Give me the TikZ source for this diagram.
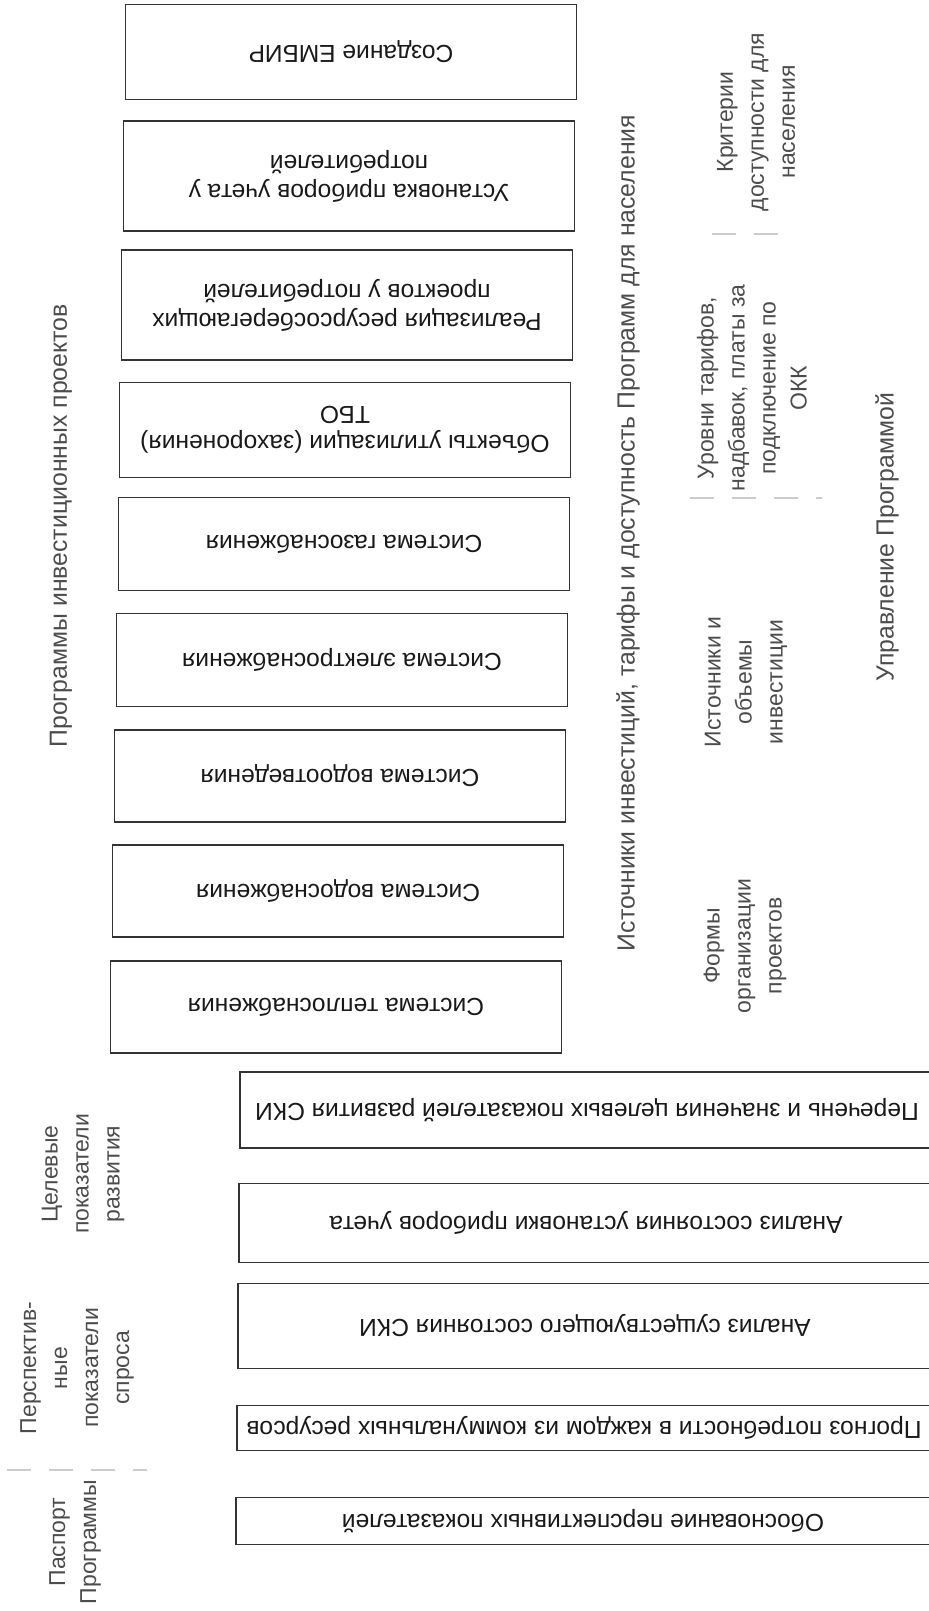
\documentclass[tikz,border=0pt]{standalone}
\usepackage{fontspec}
\setmainfont{Liberation Sans}
\usetikzlibrary{positioning}
\tikzset{
every picture/.style={x=0.5pt, y=-0.5pt},
blok/.style={draw=black!80, line width=0.9pt, rotate=180, align=center,
  inner sep=2pt, text=black!90, font=\fontsize{12.3}{14.5}\selectfont},
kol/.style={blok, minimum width=225.5pt},
niz/.style={blok, minimum width=347pt},
lbl/.style={rotate=90, align=center, text=black!70, inner sep=0pt,
  font=\fontsize{11.5}{15.5}\selectfont},
biglbl/.style={lbl, font=\fontsize{12.4}{15}\selectfont},
sep/.style={draw=black!20, line width=1pt, dash pattern=on 12pt off 9pt},
}

\begin{document}
\begin{tikzpicture}
\useasboundingbox (0,0) rectangle (928,1611);
% programs of investment projects
    \node[kol, minimum height=47.5pt] (emvir) at (351,52) {Создание ЕМБИР};
    \node[kol, minimum height=55pt] (pribory) at (349,176) {Установка приборов учета у\\потребителей};
    \node[kol, minimum height=55pt] (resurs) at (347,305) {Реализация ресурсосберегающих\\проектов у потребителей};
    \node[kol, minimum height=47.5pt] (tbo) at (345,430) {Объекты утилизации (захоронения)\\ТБО};
    \node[kol, minimum height=46.5pt] (gaz) at (344,544) {Система газоснабжения};
    \node[kol, minimum height=46.5pt] (elektro) at (342,660) {Система электроснабжения};
    \node[kol, minimum height=46pt] (vodootv) at (340,776) {Система водоотведения};
    \node[kol, minimum height=46pt] (vodosn) at (338,891) {Система водоснабжения};
    \node[kol, minimum height=46pt] (teplo) at (336,1007) {Система теплоснабжения};
% lower boxes
    \node[niz, minimum height=38pt] (perechen) at (587,1110) {Перечень и значения целевых показателей развития СКИ};
    \node[niz, minimum height=39.5pt] (analizpu) at (586,1223) {Анализ состояния установки приборов учета};
    \node[niz, minimum height=42.5pt] (analizski) at (585,1326) {Анализ существующего состояния СКИ};
    \node[niz, minimum height=22.5pt] (prognoz) at (584,1428) {Прогноз потребности в каждом из коммунальных ресурсов};
    \node[niz, minimum height=23.5pt] (obosn) at (583,1521) {Обоснование перспективных показателей};
% side labels
    \node[biglbl] (invprog) at (61,526) {Программы инвестиционных проектов};
    \node[biglbl] (istochtarif) at (628,533) {Источники инвестиций, тарифы и доступность Программ для населения};
    \node[biglbl] (upravl) at (887,537) {Управление Программой};
    \node[lbl] (kriter) at (756,122) {Критерии\\доступности для\\населения};
    \node[lbl] (urovni) at (752,388) {Уровни тарифов,\\надбавок, платы за\\подключение по\\ОКК};
    \node[lbl] (istochinv) at (746,682) {Источники и\\объемы\\инвестиции};
    \node[lbl] (formy) at (745,946) {Формы\\организации\\проектов};
    \node[lbl] (celevye) at (83,1174) {Целевые\\показатели\\развития};
    \node[lbl] (perspekt) at (77,1368) {Перспектив-\\ные\\показатели\\спроса};
    \node[lbl] (pasport) at (75,1542) {Паспорт\\Программы};
% faint rules
    \draw[sep] (712,234) -- (795,234);
    \draw[sep] (690,498) -- (822,498);
    \draw[sep] (7,1470) -- (147,1470);
\end{tikzpicture}
\end{document}
